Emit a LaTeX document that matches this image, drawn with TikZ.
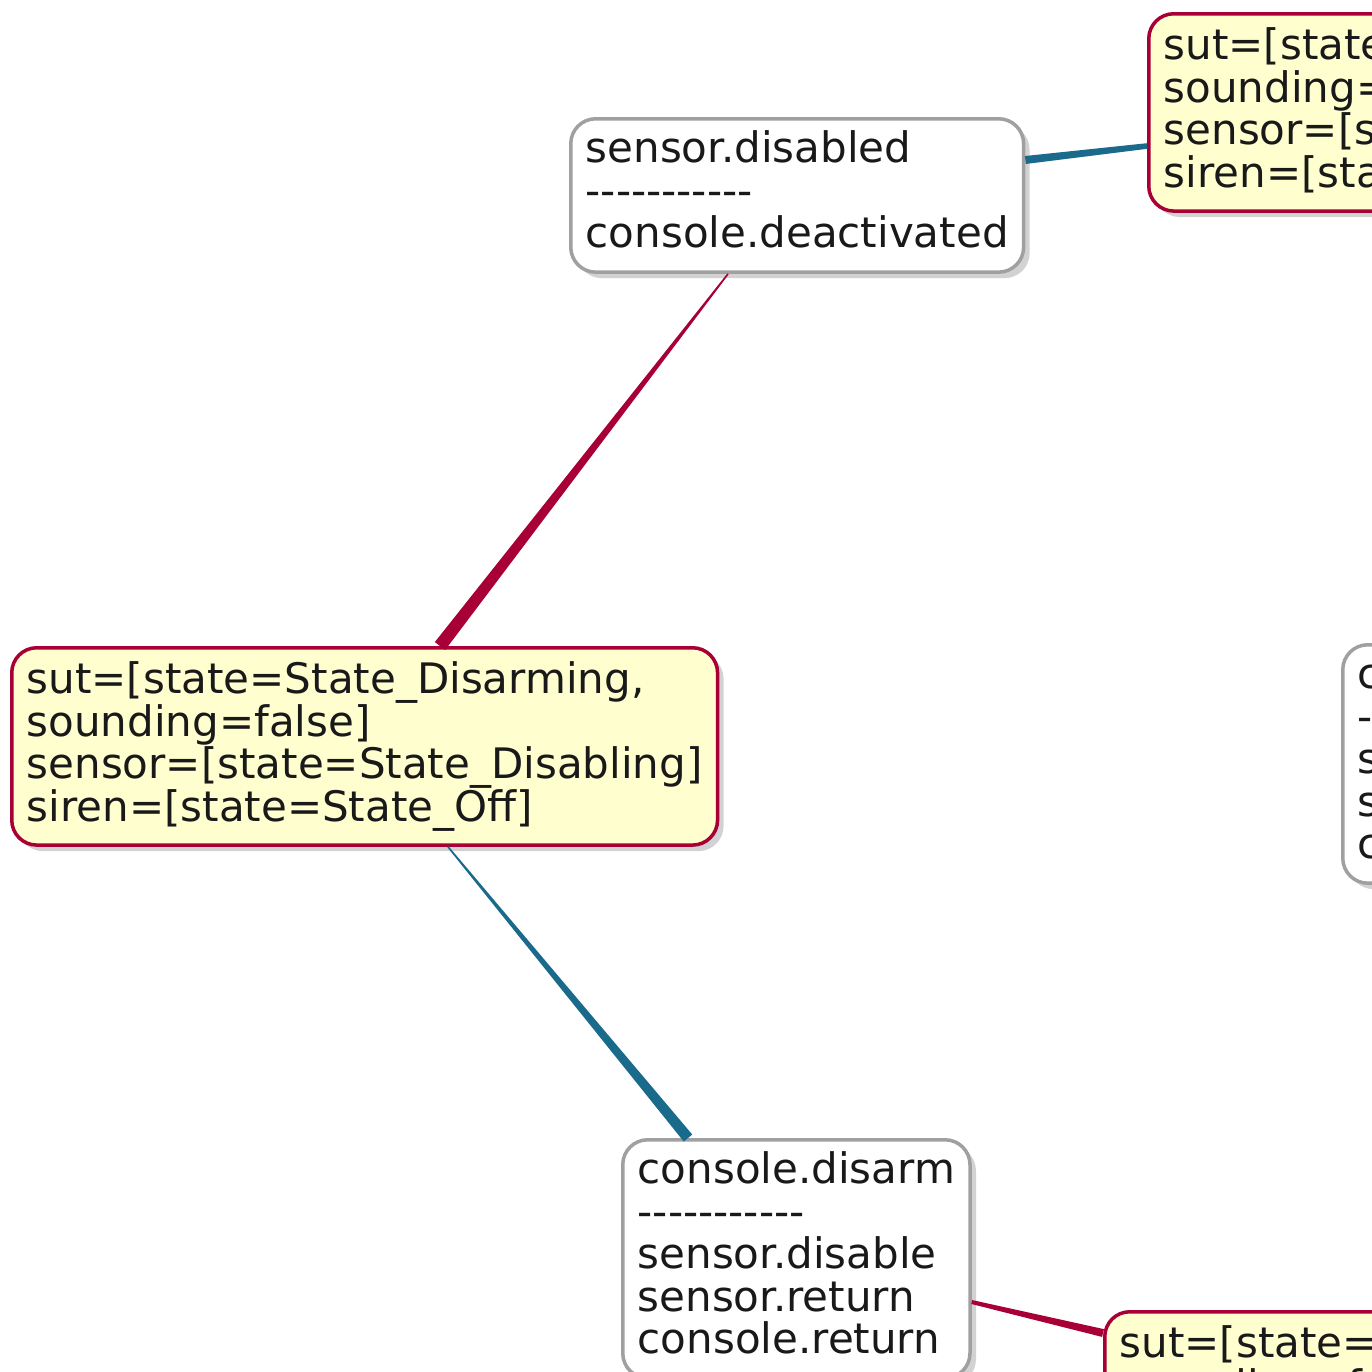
\documentclass[tikz,border=0pt]{standalone}
\usepackage{fontspec}
\setmainfont{DejaVu Sans}[Ligatures=TeXOff]
\usetikzlibrary{calc,shadows}
\definecolor{stateborder}{HTML}{A80036}
\definecolor{statefill}{HTML}{FEFECE}
\definecolor{eventborder}{HTML}{A0A0A0}
\definecolor{inflowcol}{HTML}{1A6A8C}

\begin{document}
\begin{tikzpicture}[x=1pt, y=-1pt]
				\tikzstyle{every node}=[inner xsep=15pt, inner ysep=14pt, align=left, anchor=north west, text=black!90, font=\fontsize{42pt}{42.5pt}\selectfont]
				\tikzstyle{box}=[rounded corners=25pt, line width=3.5pt, drop shadow={shadow xshift=6pt, shadow yshift=-6pt, fill=black!35}]
				\tikzstyle{state}=[box, draw=stateborder, fill=statefill]
				\tikzstyle{event}=[box, draw=eventborder, fill=white, inner ysep=12pt, text depth=12.5pt]
				\fill[white] (0, 0) rectangle (1372, 1371);
				\useasboundingbox (0, 0) rectangle (1372, 1371);
				\node[state] (topst) at (1147, 12) {sut=[state=State\_Disarmed,\\sounding=false]\\sensor=[state=State\_Disabled]\\siren=[state=State\_Off]};
				\node[event] (dis) at (569, 117) {sensor.disabled\\-----------\\console.deactivated};
				\node[state] (mainst) at (10, 646) {sut=[state=State\_Disarming,\\sounding=false]\\sensor=[state=State\_Disabling]\\siren=[state=State\_Off]};
				\node[event] (armev) at (1341, 643) {console.arm\\-----------\\sensor.enable\\sensor.return\\console.return};
				\node[event] (dec) at (621, 1138) {console.disarm\\-----------\\sensor.disable\\sensor.return\\console.return};
				\node[state] (botst) at (1103, 1310) {sut=[state=State\_Armed,\\sounding=false]\\sensor=[state=State\_Enabled]\\siren=[state=State\_Off]};
				\coordinate (mainout) at ([xshift=430pt]mainst.north west);
				\coordinate (disin) at ([xshift=159pt]dis.south west);
				\coordinate (disout) at ([yshift=-43pt]dis.north east);
				\coordinate (topin) at ([yshift=-134pt]topst.north west);
				\coordinate (decout) at ([xshift=67pt]dec.north west);
				\coordinate (mainin) at ([xshift=438pt]mainst.south west);
				\coordinate (botout) at ([yshift=-23pt]botst.north west);
				\coordinate (decin) at ([yshift=-164pt]dec.north east);
				\fill[stateborder] ($(mainout)!6.5pt!90:(disin)$) -- ($(disin)!0.8pt!-90:(mainout)$) -- ($(disin)!0.8pt!90:(mainout)$) -- ($(mainout)!6.5pt!-90:(disin)$) -- cycle;
				\fill[inflowcol] ($(decout)!5.5pt!90:(mainin)$) -- ($(mainin)!0.8pt!-90:(decout)$) -- ($(mainin)!0.8pt!90:(decout)$) -- ($(decout)!5.5pt!-90:(mainin)$) -- cycle;
				\fill[inflowcol] ($(disout)!4pt!90:(topin)$) -- ($(topin)!2.8pt!-90:(disout)$) -- ($(topin)!2.8pt!90:(disout)$) -- ($(disout)!4pt!-90:(topin)$) -- cycle;
				\fill[stateborder] ($(botout)!4pt!90:(decin)$) -- ($(decin)!2pt!-90:(botout)$) -- ($(decin)!2pt!90:(botout)$) -- ($(botout)!4pt!-90:(decin)$) -- cycle;
		\end{tikzpicture}
\end{document}
